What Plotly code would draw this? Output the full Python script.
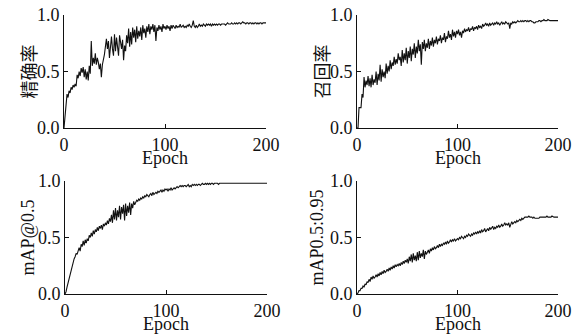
import plotly.graph_objects as go

epochs = list(range(0, 201))

precision = [
    0.00, 0.12, 0.22, 0.30, 0.27, 0.33, 0.31, 0.36, 0.34, 0.38,
    0.36, 0.39, 0.37, 0.47, 0.44, 0.50, 0.46, 0.53, 0.49, 0.54,
    0.45, 0.52, 0.43, 0.50, 0.42, 0.55, 0.48, 0.77, 0.55, 0.62,
    0.57, 0.66, 0.56, 0.62, 0.58, 0.52, 0.57, 0.45, 0.56, 0.60,
    0.65, 0.72, 0.79, 0.70, 0.77, 0.62, 0.75, 0.81, 0.70, 0.64,
    0.83, 0.68, 0.80, 0.72, 0.64, 0.82, 0.75, 0.70, 0.78, 0.60,
    0.73, 0.68, 0.82, 0.75, 0.88, 0.72, 0.85, 0.74, 0.89, 0.80,
    0.87, 0.76, 0.90, 0.79, 0.86, 0.81, 0.89, 0.78, 0.91, 0.84,
    0.88, 0.80, 0.90, 0.85, 0.92, 0.83, 0.90, 0.87, 0.92, 0.85,
    0.91, 0.77, 0.89, 0.86, 0.91, 0.87, 0.90, 0.85, 0.92, 0.88,
    0.90, 0.87, 0.91, 0.88, 0.90, 0.86, 0.91, 0.88, 0.91, 0.89,
    0.88, 0.91, 0.89, 0.90, 0.89, 0.92, 0.89, 0.90, 0.91, 0.89,
    0.90, 0.89, 0.91, 0.90, 0.92, 0.90, 0.89, 0.91, 0.95, 0.90,
    0.89, 0.91, 0.89, 0.90, 0.92, 0.90, 0.91, 0.90, 0.92, 0.91,
    0.90, 0.92, 0.91, 0.92, 0.91, 0.92, 0.90, 0.92, 0.91, 0.92,
    0.91, 0.92, 0.91, 0.92, 0.92, 0.91, 0.92, 0.92, 0.92, 0.92,
    0.91, 0.92, 0.93, 0.92, 0.92, 0.92, 0.93, 0.92, 0.92, 0.93,
    0.92, 0.93, 0.92, 0.93, 0.93, 0.92, 0.93, 0.94, 0.93, 0.93,
    0.92, 0.93, 0.93, 0.92, 0.93, 0.93, 0.92, 0.93, 0.92, 0.93,
    0.93, 0.92, 0.93, 0.92, 0.93, 0.93, 0.92, 0.93, 0.93, 0.93,
    0.93,
]

recall = [
    0.00, 0.00, 0.18, 0.18, 0.18, 0.30, 0.27, 0.45, 0.36, 0.42,
    0.38, 0.46, 0.37, 0.44, 0.36, 0.47, 0.38, 0.43, 0.40, 0.50,
    0.38, 0.48, 0.42, 0.56, 0.41, 0.52, 0.45, 0.50, 0.44, 0.57,
    0.48, 0.55, 0.50, 0.60, 0.52, 0.58, 0.55, 0.63, 0.56, 0.61,
    0.57, 0.66, 0.60, 0.63, 0.55, 0.69, 0.58, 0.66, 0.60, 0.71,
    0.57, 0.68, 0.62, 0.72, 0.59, 0.70, 0.65, 0.75, 0.62, 0.72,
    0.66, 0.78, 0.68, 0.74, 0.56, 0.76, 0.70, 0.78, 0.68, 0.75,
    0.71, 0.79, 0.70, 0.77, 0.73, 0.80, 0.72, 0.78, 0.75, 0.81,
    0.74, 0.79, 0.77, 0.82, 0.75, 0.80, 0.78, 0.84, 0.76, 0.81,
    0.79, 0.86, 0.80, 0.83, 0.78, 0.87, 0.81, 0.85, 0.80, 0.86,
    0.83, 0.87, 0.82, 0.85, 0.80, 0.86, 0.84, 0.88, 0.85, 0.87,
    0.86, 0.89, 0.85, 0.88, 0.87, 0.90, 0.86, 0.89, 0.88, 0.90,
    0.87, 0.91, 0.89, 0.90, 0.88, 0.92, 0.90, 0.91, 0.93, 0.91,
    0.92, 0.90, 0.93, 0.91, 0.92, 0.93, 0.91, 0.93, 0.92, 0.94,
    0.92, 0.93, 0.91, 0.93, 0.94, 0.92, 0.93, 0.92, 0.94, 0.93,
    0.92, 0.93, 0.88, 0.93, 0.92, 0.94, 0.93, 0.94, 0.93, 0.94,
    0.95, 0.94, 0.94, 0.95, 0.94, 0.95, 0.94, 0.95, 0.95, 0.94,
    0.95, 0.94, 0.95, 0.95, 0.94, 0.94, 0.93, 0.93, 0.94, 0.94,
    0.94, 0.95, 0.95, 0.94, 0.95, 0.95, 0.96, 0.95, 0.95, 0.95,
    0.96, 0.95, 0.95, 0.95, 0.95, 0.95, 0.95, 0.95, 0.95, 0.95,
    0.95,
]

map50 = [
    0.00, 0.02, 0.06, 0.10, 0.14, 0.18, 0.22, 0.26, 0.28, 0.31,
    0.33, 0.36, 0.35, 0.39, 0.41, 0.38, 0.44, 0.42, 0.47, 0.43,
    0.48, 0.45, 0.49, 0.47, 0.52, 0.50, 0.54, 0.51, 0.56, 0.53,
    0.57, 0.55, 0.59, 0.56, 0.60, 0.58, 0.61, 0.57, 0.62, 0.60,
    0.63, 0.61, 0.65, 0.62, 0.67, 0.64, 0.70, 0.63, 0.74, 0.66,
    0.76, 0.65, 0.74, 0.68, 0.78, 0.66, 0.77, 0.71, 0.79, 0.65,
    0.80, 0.69, 0.78, 0.72, 0.81, 0.70, 0.80, 0.76, 0.82, 0.79,
    0.81, 0.83, 0.82, 0.84, 0.83, 0.85, 0.84, 0.86, 0.85, 0.87,
    0.86, 0.88, 0.87, 0.86, 0.88, 0.89, 0.87, 0.90, 0.88, 0.89,
    0.90, 0.89, 0.91, 0.90, 0.91, 0.92, 0.90, 0.92, 0.91, 0.93,
    0.92, 0.93, 0.91, 0.93, 0.92, 0.94, 0.92, 0.93, 0.94, 0.93,
    0.94, 0.95, 0.94, 0.95, 0.96, 0.95, 0.96, 0.95, 0.96, 0.96,
    0.95, 0.96, 0.97, 0.95, 0.96, 0.95, 0.97, 0.96, 0.97, 0.96,
    0.97, 0.96, 0.97, 0.97, 0.96, 0.97, 0.98, 0.97, 0.97, 0.98,
    0.97, 0.98, 0.97, 0.98, 0.97, 0.98, 0.98, 0.97, 0.98, 0.98,
    0.98, 0.98, 0.97, 0.98, 0.98, 0.98, 0.98, 0.98, 0.98, 0.98,
    0.98, 0.98, 0.98, 0.98, 0.98, 0.98, 0.98, 0.98, 0.98, 0.98,
    0.98, 0.98, 0.98, 0.98, 0.98, 0.98, 0.98, 0.98, 0.98, 0.98,
    0.98, 0.98, 0.98, 0.98, 0.98, 0.98, 0.98, 0.98, 0.98, 0.98,
    0.98, 0.98, 0.98, 0.98, 0.98, 0.98, 0.98, 0.98, 0.98, 0.98,
    0.98,
]

map5095 = [
    0.00, 0.01, 0.03, 0.03, 0.05, 0.05, 0.07, 0.06, 0.09, 0.08,
    0.11, 0.10, 0.13, 0.11, 0.15, 0.13, 0.16, 0.14, 0.15, 0.17,
    0.15, 0.18, 0.16, 0.19, 0.17, 0.20, 0.18, 0.21, 0.19, 0.20,
    0.22, 0.20, 0.23, 0.21, 0.24, 0.22, 0.25, 0.23, 0.26, 0.24,
    0.26, 0.25, 0.27, 0.25, 0.28, 0.26, 0.29, 0.27, 0.30, 0.28,
    0.31, 0.27, 0.33, 0.29, 0.35, 0.28, 0.36, 0.30, 0.34, 0.29,
    0.37, 0.30, 0.38, 0.32, 0.36, 0.33, 0.39, 0.31, 0.38, 0.35,
    0.37, 0.39, 0.36, 0.40, 0.38, 0.41, 0.39, 0.42, 0.40, 0.41,
    0.43, 0.41, 0.44, 0.42, 0.44, 0.43, 0.45, 0.44, 0.46, 0.44,
    0.47, 0.45, 0.46, 0.48, 0.46, 0.48, 0.47, 0.49, 0.47, 0.48,
    0.49, 0.48, 0.50, 0.49, 0.51, 0.50, 0.49, 0.51, 0.50, 0.52,
    0.51, 0.53, 0.52, 0.51, 0.53, 0.52, 0.54, 0.53, 0.55, 0.53,
    0.55, 0.54, 0.56, 0.54, 0.57, 0.55, 0.56, 0.58, 0.55, 0.57,
    0.58, 0.56, 0.59, 0.57, 0.58, 0.60, 0.57, 0.59, 0.58, 0.60,
    0.59, 0.61, 0.59, 0.60, 0.62, 0.60, 0.61, 0.63, 0.61, 0.62,
    0.61, 0.63, 0.59, 0.62, 0.64, 0.62, 0.63, 0.64, 0.63, 0.65,
    0.64, 0.65, 0.66, 0.65, 0.67, 0.66, 0.67, 0.68, 0.68, 0.68,
    0.68, 0.69, 0.68, 0.68, 0.68, 0.67, 0.68, 0.67, 0.67, 0.67,
    0.67, 0.67, 0.68, 0.68, 0.68, 0.68, 0.68, 0.68, 0.68, 0.69,
    0.68, 0.68, 0.68, 0.68, 0.69, 0.68, 0.68, 0.68, 0.68, 0.68,
    0.68,
]

y_titles = ["精确率", "召回率", "mAP@0.5", "mAP0.5:0.95"]
series = [precision, recall, map50, map5095]
x_title = "Epoch"
x_ticks = [0, 100, 200]
y_ticks = [0.0, 0.5, 1.0]
y_ticktext = ["0.0", "0.5", "1.0"]

W, H = 580, 336
# pixel boxes of plot areas: (left, right, top, bottom)
boxes = [(64, 266, 15, 128), (357, 558, 15, 128), (65, 267, 181, 294), (357, 558, 181, 294)]
title_x_px = [27, 320, 27, 316]

FONT = "Liberation Serif"
CJK = "Noto Sans CJK SC"
INK = "#111111"

fig = go.Figure()
annotations = []
for i, (ys, box) in enumerate(zip(series, boxes)):
    n = i + 1
    xa = "x" if n == 1 else f"x{n}"
    ya = "y" if n == 1 else f"y{n}"
    fig.add_trace(go.Scatter(x=epochs, y=ys, mode="lines",
                             line=dict(color=INK, width=1.1),
                             xaxis=xa, yaxis=ya, showlegend=False))
    l, r, t, b = box
    xkey = "xaxis" if n == 1 else f"xaxis{n}"
    ykey = "yaxis" if n == 1 else f"yaxis{n}"
    fig.update_layout(**{
        xkey: dict(domain=[l / W, r / W], anchor=ya, range=[0, 200],
                   tickvals=x_ticks, ticks="inside", ticklen=4, tickcolor=INK,
                   showline=True, linecolor=INK, linewidth=1, showgrid=False,
                   zeroline=False, automargin=False,
                   tickfont=dict(family=FONT, size=18, color=INK)),
        ykey: dict(domain=[1 - b / H, 1 - t / H], anchor=xa, range=[0, 1],
                   tickvals=y_ticks, ticktext=y_ticktext, ticks="inside", ticklen=4,
                   tickcolor=INK, showline=True, linecolor=INK, linewidth=1,
                   showgrid=False, zeroline=False, automargin=False,
                   tickfont=dict(family=FONT, size=18, color=INK)),
    })
    annotations.append(dict(text=x_title, x=(l + r) / 2 / W, y=1 - (b + 30) / H,
                            xref="paper", yref="paper", showarrow=False,
                            xanchor="center", yanchor="middle",
                            font=dict(family=FONT, size=18, color=INK)))
    annotations.append(dict(text=y_titles[i], x=title_x_px[i] / W, y=1 - (t + b) / 2 / H,
                            xref="paper", yref="paper", showarrow=False, textangle=-90,
                            xanchor="center", yanchor="middle",
                            font=dict(family=CJK if i < 2 else FONT, size=18, color=INK)))

fig.update_layout(width=W, height=H, margin=dict(l=0, r=0, t=0, b=0, pad=0),
                  paper_bgcolor="white", plot_bgcolor="white",
                  annotations=annotations)
fig.write_html("out.html", config={"displayModeBar": False},
               post_script="document.body.style.margin='0';document.body.style.overflow='hidden';")
